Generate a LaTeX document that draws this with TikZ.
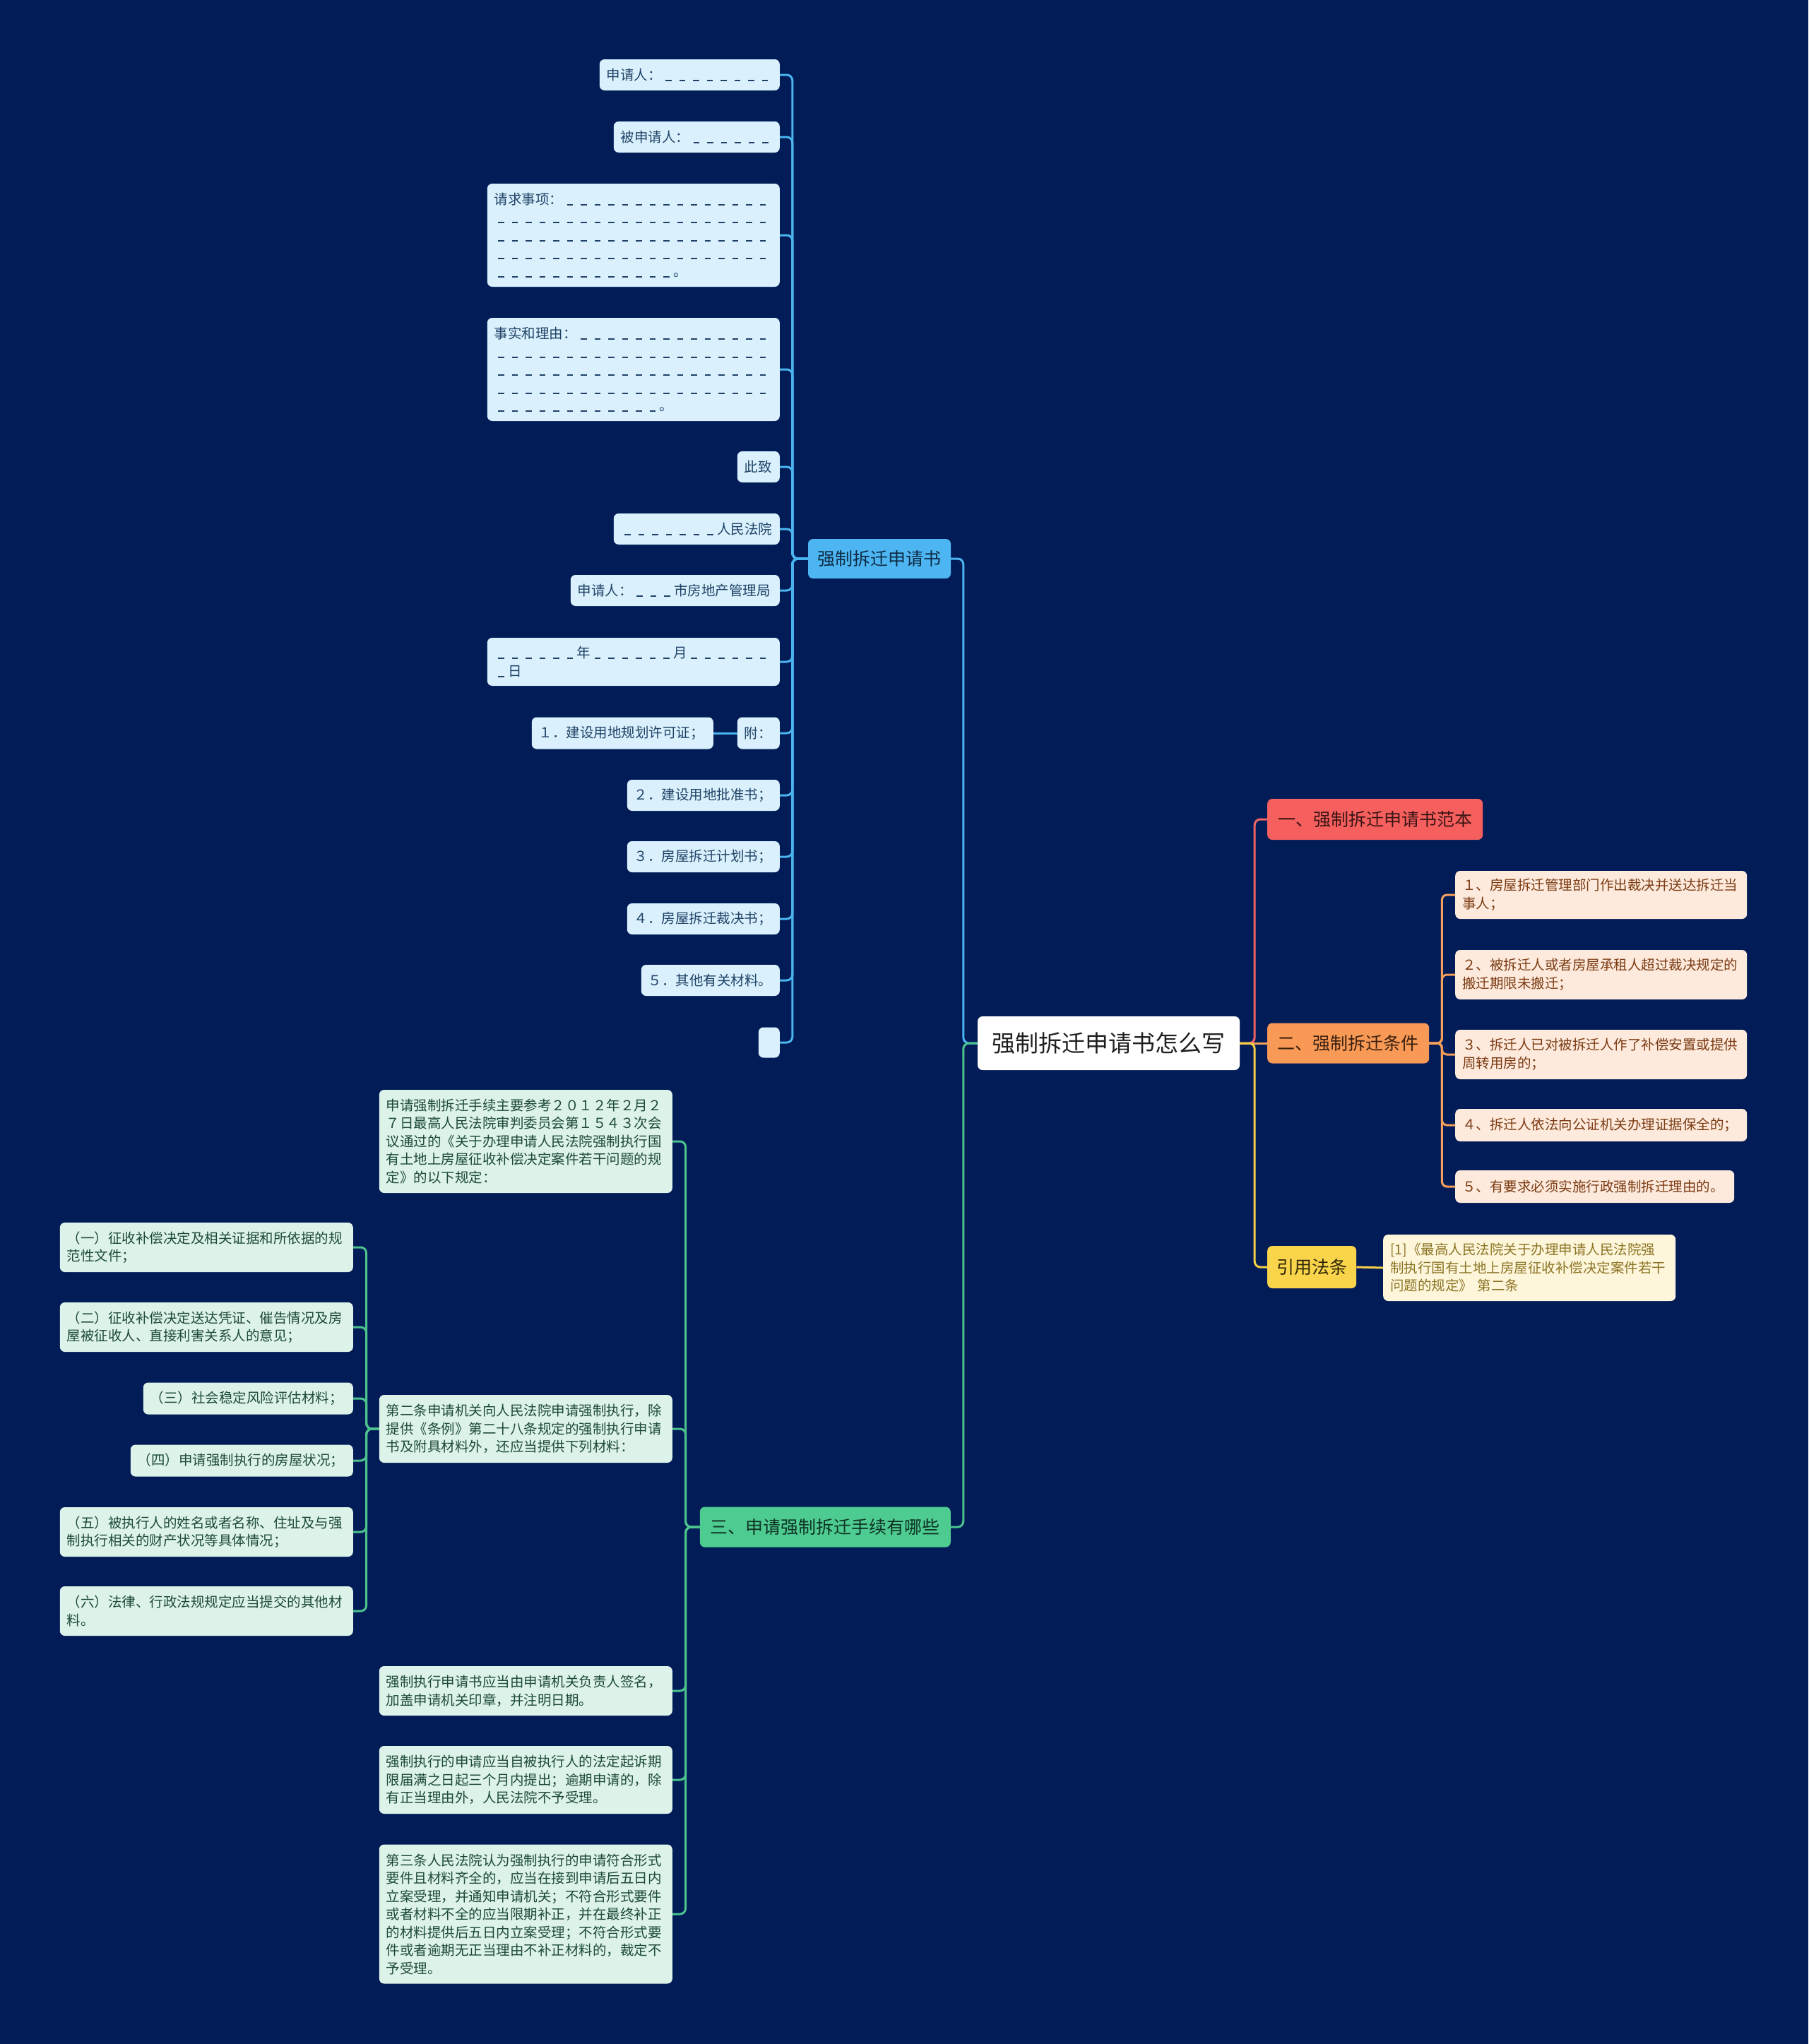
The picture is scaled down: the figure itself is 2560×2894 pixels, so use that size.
\documentclass[tikz,border=0pt]{standalone}
\usepackage{fontspec}
\setmainfont{Noto Sans CJK SC}
\definecolor{bg}{HTML}{021C58}
\definecolor{bleaff}{HTML}{DAF1FD}
\definecolor{bleaft}{HTML}{1F4266}
\definecolor{bmainf}{HTML}{4DB6F2}
\definecolor{bmaint}{HTML}{0E2B45}
\definecolor{bline}{HTML}{4AB4EE}
\definecolor{rmainf}{HTML}{F5605E}
\definecolor{rmaint}{HTML}{3B1414}
\definecolor{rline}{HTML}{F06565}
\definecolor{omainf}{HTML}{F89A55}
\definecolor{omaint}{HTML}{3B2010}
\definecolor{oline}{HTML}{F5A05A}
\definecolor{oleaff}{HTML}{FDEADC}
\definecolor{oleaft}{HTML}{7B3A12}
\definecolor{ymainf}{HTML}{FAD54B}
\definecolor{ymaint}{HTML}{2E2608}
\definecolor{yline}{HTML}{F5CF45}
\definecolor{yleaff}{HTML}{FEF6DB}
\definecolor{yleaft}{HTML}{8C7424}
\definecolor{gmainf}{HTML}{4DCB90}
\definecolor{gmaint}{HTML}{0F3324}
\definecolor{gline}{HTML}{4CC38C}
\definecolor{gleaff}{HTML}{DDF3E9}
\definecolor{gleaft}{HTML}{1D4A36}
\newcommand\dsh{\leavevmode\hbox to 1em{\hss\rule[-1.6pt]{8.8pt}{2pt}\hss}}
\newcommand\dshs[1]{\leavevmode\foreach \i in {1,...,#1}{\dsh}}
\tikzset{
  leafbox/.style={rounded corners=7pt, inner xsep=10pt, inner ysep=0pt, align=left,
    font=\fontsize{19.5}{25.5}\selectfont},
  bleaf/.style={leafbox, fill=bleaff, text=bleaft},
  oleaf/.style={leafbox, fill=oleaff, text=oleaft},
  yleaf/.style={leafbox, fill=yleaff, text=yleaft},
  gleaf/.style={leafbox, fill=gleaff, text=gleaft},
  mainbox/.style={rounded corners=7pt, inner sep=0pt, align=center,
    font=\fontsize{25}{30}\selectfont},
  conn/.style={line width=3pt, rounded corners=8pt},
  bconn/.style={conn, draw=bline},
  rconn/.style={conn, draw=rline},
  oconn/.style={conn, draw=oline, rounded corners=7pt},
  yconn/.style={conn, draw=yline},
  gconn/.style={conn, draw=gline},
}
\begin{document}
\begin{tikzpicture}[x=1pt,y=-1pt]
\path[use as bounding box] (0,0) rectangle (2560,2894);
\fill[bg] (0,0) rectangle (2560,2894);

% root
\node[mainbox, fill=white, text=black!88, minimum width=371pt, minimum height=76pt,
  font=\fontsize{33}{38}\selectfont] (root) at (1569.5,1477) {强制拆迁申请书怎么写};

% main branches
\node[mainbox, fill=bmainf, text=bmaint, minimum width=202pt, minimum height=56pt] (mb) at (1245,791) {强制拆迁申请书};
\node[mainbox, fill=gmainf, text=gmaint, minimum width=355pt, minimum height=57pt, anchor=east] (m3) at (1346,2162) {三、申请强制拆迁手续有哪些};
\node[mainbox, fill=rmainf, text=rmaint, minimum width=305pt, minimum height=58pt, anchor=west] (m1) at (1794,1160) {一、强制拆迁申请书范本};
\node[mainbox, fill=omainf, text=omaint, minimum width=229pt, minimum height=57pt, anchor=west] (m2) at (1794,1477) {二、强制拆迁条件};
\node[mainbox, fill=ymainf, text=ymaint, minimum width=126pt, minimum height=60pt, anchor=west] (m4) at (1794,1794) {引用法条};

% blue leaves
\node[bleaf, anchor=east, text width=235pt, minimum height=44pt] (b1) at (1104,106) {申请人：\dshs{8}};
\node[bleaf, anchor=east, text width=215pt, minimum height=44pt] (b2) at (1104,194) {被申请人：\dshs{6}};
\node[bleaf, anchor=east, text width=394pt, minimum height=146pt] (b3) at (1104,333) {请求事项：\dshs{15}\\\dshs{20}\\\dshs{20}\\\dshs{20}\\\dshs{13}。};
\node[bleaf, anchor=east, text width=394pt, minimum height=146pt] (b4) at (1104,523) {事实和理由：\dshs{14}\\\dshs{20}\\\dshs{20}\\\dshs{20}\\\dshs{12}。};
\node[bleaf, anchor=east, text width=40pt, minimum height=44pt] (b5) at (1104,661) {此致};
\node[bleaf, anchor=east, text width=215pt, minimum height=44pt] (b6) at (1104,749) {\dshs{7}人民法院};
\node[bleaf, anchor=east, text width=276pt, minimum height=44pt] (b7) at (1104,836) {申请人：\dshs{3}市房地产管理局};
\node[bleaf, anchor=east, text width=394pt, minimum height=68pt] (b8) at (1104,937) {\dshs{6}年\dshs{6}月\dshs{6}\\\dshs{1}日};
\node[bleaf, anchor=east, text width=40pt, minimum height=45pt] (b9) at (1104,1038) {附：};
\node[bleaf, anchor=east, text width=237pt, minimum height=45pt] (b9a) at (1010,1038) {１．建设用地规划许可证；};
\node[bleaf, anchor=east, text width=196pt, minimum height=44pt] (b10) at (1104,1126) {２．建设用地批准书；};
\node[bleaf, anchor=east, text width=196pt, minimum height=44pt] (b11) at (1104,1213) {３．房屋拆迁计划书；};
\node[bleaf, anchor=east, text width=196pt, minimum height=44pt] (b12) at (1104,1301) {４．房屋拆迁裁决书；};
\node[bleaf, anchor=east, text width=176pt, minimum height=44pt] (b13) at (1104,1388) {５．其他有关材料。};
\node[bleaf, anchor=east, text width=10pt, minimum height=43pt] (b14) at (1104,1476) {};

% orange leaves
\node[oleaf, anchor=west, text width=393pt, minimum height=68pt] (o1) at (2060,1267) {１、房屋拆迁管理部门作出裁决并送达拆迁当\\事人；};
\node[oleaf, anchor=west, text width=393pt, minimum height=70pt] (o2) at (2060,1380) {２、被拆迁人或者房屋承租人超过裁决规定的\\搬迁期限未搬迁；};
\node[oleaf, anchor=west, text width=393pt, minimum height=70pt] (o3) at (2060,1493) {３、拆迁人已对被拆迁人作了补偿安置或提供\\周转用房的；};
\node[oleaf, anchor=west, text width=393pt, minimum height=46pt] (o4) at (2060,1593) {４、拆迁人依法向公证机关办理证据保全的；};
\node[oleaf, anchor=west, text width=375pt, minimum height=46pt] (o5) at (2060,1680) {５、有要求必须实施行政强制拆迁理由的。};

% yellow leaf
\node[yleaf, anchor=west, text width=394pt, minimum height=94pt] (y1) at (1958,1795) {[1]《最高人民法院关于办理申请人民法院强\\制执行国有土地上房屋征收补偿决定案件若干\\问题的规定》 第二条};

% green leaves
\node[gleaf, anchor=east, text width=395pt, minimum height=146pt] (gA) at (952,1616) {申请强制拆迁手续主要参考２０１２年２月２\\７日最高人民法院审判委员会第１５４３次会\\议通过的《关于办理申请人民法院强制执行国\\有土地上房屋征收补偿决定案件若干问题的规\\定》的以下规定：};
\node[gleaf, anchor=east, text width=395pt, minimum height=96pt] (gB) at (952,2023) {第二条申请机关向人民法院申请强制执行，除\\提供《条例》第二十八条规定的强制执行申请\\书及附具材料外，还应当提供下列材料：};
\node[gleaf, anchor=east, text width=395pt, minimum height=70pt] (gC) at (952,2394) {强制执行申请书应当由申请机关负责人签名，\\加盖申请机关印章，并注明日期。};
\node[gleaf, anchor=east, text width=395pt, minimum height=96pt] (gD) at (952,2520) {强制执行的申请应当自被执行人的法定起诉期\\限届满之日起三个月内提出；逾期申请的，除\\有正当理由外，人民法院不予受理。};
\node[gleaf, anchor=east, text width=395pt, minimum height=197pt] (gE) at (952,2710) {第三条人民法院认为强制执行的申请符合形式\\要件且材料齐全的，应当在接到申请后五日内\\立案受理，并通知申请机关；不符合形式要件\\或者材料不全的应当限期补正，并在最终补正\\的材料提供后五日内立案受理；不符合形式要\\件或者逾期无正当理由不补正材料的，裁定不\\予受理。};

\node[gleaf, anchor=east, text width=395pt, minimum height=70pt] (c1) at (500,1766) {（一）征收补偿决定及相关证据和所依据的规\\范性文件；};
\node[gleaf, anchor=east, text width=395pt, minimum height=70pt] (c2) at (500,1879) {（二）征收补偿决定送达凭证、催告情况及房\\屋被征收人、直接利害关系人的意见；};
\node[gleaf, anchor=east, text width=277pt, minimum height=45pt] (c3) at (500,1980) {（三）社会稳定风险评估材料；};
\node[gleaf, anchor=east, text width=295pt, minimum height=45pt] (c4) at (500,2068) {（四）申请强制执行的房屋状况；};
\node[gleaf, anchor=east, text width=395pt, minimum height=70pt] (c5) at (500,2169) {（五）被执行人的姓名或者名称、住址及与强\\制执行相关的财产状况等具体情况；};
\node[gleaf, anchor=east, text width=395pt, minimum height=70pt] (c6) at (500,2281) {（六）法律、行政法规规定应当提交的其他材\\料。};

% connectors
\draw[bconn] (root.west) -- ++(-20,0) |- (mb.east);
\draw[gconn] (root.west) -- ++(-20,0) |- (m3.east);
\draw[rconn] (root.east) -- ++(21,0) |- (m1.west);
\draw[oconn] (root.east) -- (m2.west);
\draw[yconn] (root.east) -- ++(21,0) |- (m4.west);

\foreach \c in {b1,b2,b3,b4,b5,b6,b7,b8,b9,b10,b11,b12,b13,b14}
  \draw[bconn] (mb.west) -- ++(-22,0) |- (\c.east);
\draw[bconn] (b9.west) -- (b9a.east);

\foreach \c in {o1,o2,o3,o4,o5}
  \draw[oconn] (m2.east) -- ++(18,0) |- (\c.west);
\draw[yconn] (m4.east) -- (y1.west);

\foreach \c in {gA,gB,gC,gD,gE}
  \draw[gconn] (m3.west) -- ++(-20,0) |- (\c.east);
\foreach \c in {c1,c2,c3,c4,c5,c6}
  \draw[gconn] (gB.west) -- ++(-18,0) |- (\c.east);
\end{tikzpicture}
\end{document}
